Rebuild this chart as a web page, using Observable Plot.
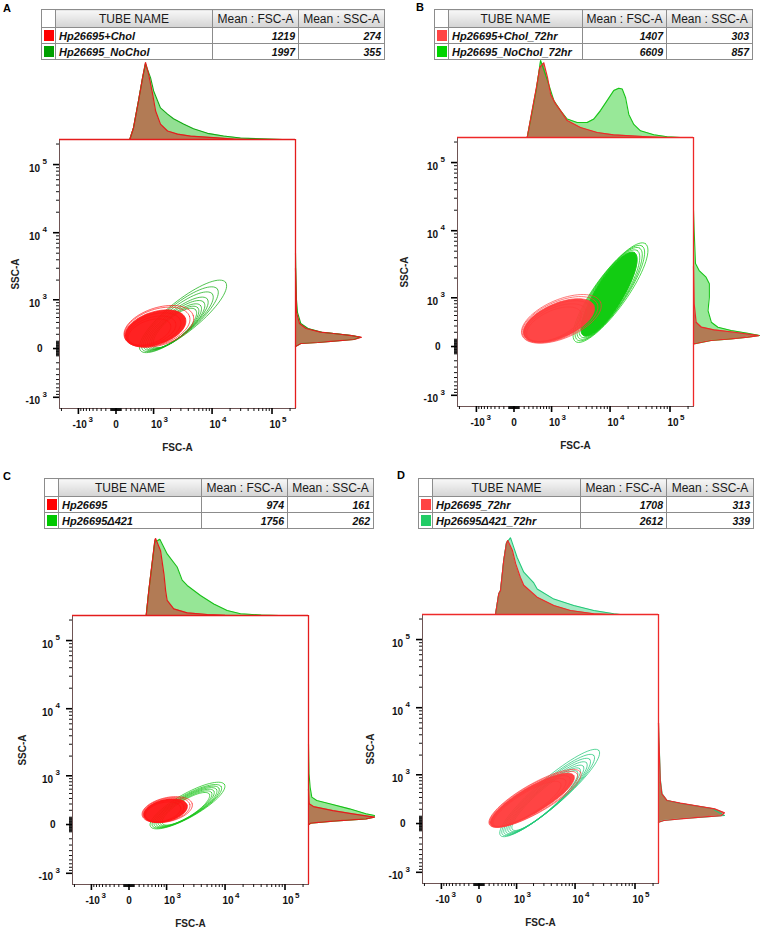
<!DOCTYPE html>
<html><head><meta charset="utf-8">
<script src="https://cdn.jsdelivr.net/npm/d3@7"></script>
<script src="https://cdn.jsdelivr.net/npm/@observablehq/plot@0.6"></script>
<style>
body{margin:0;background:#fff;font-family:"Liberation Sans",Arial,sans-serif;}
#page{position:relative;width:760px;height:929px;overflow:hidden;background:#fff;}
.holder{position:absolute;}
.holder svg{overflow:visible;background:transparent;}
.letter{position:absolute;font:bold 11px "Liberation Sans",Arial,sans-serif;line-height:13px;}
table.tube{position:absolute;border-collapse:collapse;border:1px solid #4a4a4a;table-layout:fixed;}
table.tube td,table.tube th{border:1px solid #8c8c8c;padding:0 3px;overflow:hidden;white-space:nowrap;}
table.tube th{height:17px;font:normal 12px "Liberation Sans",Arial,sans-serif;background:linear-gradient(#f7f7f7,#d4d4d4);color:#1a1a1a;}
table.tube th.blank{background:#fff;}
table.tube td{height:15px;font:italic bold 11px "Liberation Sans",Arial,sans-serif;color:#111;}
table.tube td.num{text-align:right;font-size:10.5px;}
table.tube td.swc{padding:0;}
.sw{display:block;width:10px;height:11px;margin:0 auto;}
</style></head>
<body><div id="page"></div>
<script>
// ---------- table data ----------
const tubeNamesA = ["Hp26695+Chol", "Hp26695_NoChol"];
const meanFscA = [1219, 1997];
const meanSscA = [274, 355];
const tubeNamesB = ["Hp26695+Chol_72hr", "Hp26695_NoChol_72hr"];
const meanFscB = [1407, 6609];
const meanSscB = [303, 857];
const tubeNamesC = ["Hp26695", "Hp26695\u0394421"];
const meanFscC = [974, 1756];
const meanSscC = [161, 262];
const tubeNamesD = ["Hp26695_72hr", "Hp26695\u0394421_72hr"];
const meanFscD = [1708, 2612];
const meanSscD = [313, 339];
const tableHeader = ["TUBE NAME", "Mean : FSC-A", "Mean : SSC-A"];

// ---------- axis ticks ----------
const majorTicks = [-1000, 0, 1000, 10000, 100000];
const majorTickBase = ["-10", "0", "10", "10", "10"];
const majorTickExp = ["3", "", "3", "4", "5"];
const minorMultipliers = [1, 2, 3, 4, 5, 6, 7, 8, 9];
const minorDecades = [10, 100, 1000, 10000, 100000];
const fscRange = [-2160, 246500];
const sscRange = [-1490, 233200];

// ---------- FSC histograms (top): [FSC, % of peak] ----------
const fscHistRedA = [[278,0],[362,15],[488,50],[604,80],[697,100],[802,85],[960,59],[1090,37],[1335,20],[1776,11],[2630,7],[4355,4.5],[12300,2],[22770,0.6],[40000,0]];
const fscHistGreenA = [[278,0],[362,15],[488,50],[604,80],[697,98],[878,80],[1002,63],[1335,41],[1776,33],[2250,27],[3320,20],[4890,14],[8390,8],[15520,4.5],[29800,2],[84000,0.5],[150000,0]];
const fscHistRedB = [[265,0],[378,35],[488,65],[581,91],[706,97],[835,78],[960,56],[1175,44],[1450,35],[1895,22],[3195,13],[6100,6.5],[11400,3.5],[41600,1],[80000,0]];
const fscHistGreenB = [[265,0],[378,33],[488,63],[604,100],[835,74],[1100,48],[1450,35],[1895,24],[2810,19.5],[4145,19.5],[5360,24],[6930,35],[8960,48],[11550,61],[14000,64],[15950,63],[18100,52],[20550,30],[24900,17],[32200,8.7],[53700,3.5],[89700,1],[150000,0]];
const fscHistRedC = [[355,0],[418,32],[581,97],[604,100],[766,84],[890,54],[960,32],[1025,19.5],[1350,8.7],[2310,3.5],[5030,1.3],[10000,0.3],[20000,0]];
const fscHistGreenC = [[355,0],[418,32],[581,95],[740,99],[1025,80],[1550,63],[1895,46],[2310,39],[3880,26],[6480,15],[10850,6.5],[18100,2.2],[40000,0.5],[80000,0]];
const fscHistRedD = [[339,0],[418,27],[462,31],[550,70],[630,92],[672,96],[835,83],[960,66],[1175,48],[1350,38],[2310,22.5],[4420,11.7],[8390,5.2],[20550,1],[40000,0]];
const fscHistGreenD = [[339,0],[418,27],[462,31],[550,70],[630,93],[766,99.6],[1025,74],[1350,55],[2020,41],[2310,33],[4420,20],[9530,11.7],[20550,5.2],[44300,1],[57200,0]];

// ---------- SSC histograms (right): [SSC, % of peak] ----------
const sscHistRedA = [[27,0],[68,8],[82,34],[100,58],[124,89],[156,100],[181,85],[212,58],[232,38],[292,16],[380,6],[621,1.5],[3000,0]];
const sscHistGreenA = [[27,0],[68,8],[82,34],[100,58],[124,88],[156,98],[181,85],[212,58],[232,40],[292,19],[380,8],[621,3],[1000,1.5],[2770,0.5],[5000,0]];
const sscHistRedB = [[36,0],[82,26],[105,56],[128,82],[152,99],[201,62],[238,31],[280,12],[367,4],[800,1],[3000,0]];
const sscHistGreenB = [[36,0],[82,27],[105,57],[128,82],[152,100],[186,82],[227,57],[280,37],[367,27],[614,22],[1020,24],[1640,24],[2060,19],[2590,8.6],[3290,3],[10070,1],[20000,0]];
const sscHistRedC = [[-4,0],[18,3],[45,37],[77,87],[100,100],[148,67],[196,37],[258,7.5],[303,1],[600,0]];
const sscHistGreenC = [[-4,0],[18,3],[45,37],[77,87],[100,99],[124,100],[148,87],[222,62],[303,32],[361,12.5],[425,5],[647,2.5],[1072,0.8],[3000,0]];
const sscHistRedD = [[18,0],[41,8],[64,33],[86,64],[109,95],[148,100],[207,85],[242,64],[297,33],[343,13],[472,5],[808,2.6],[3680,0.5],[6000,0]];
const sscHistGreenD = [[18,0],[41,8],[64,33],[86,66],[109,100],[148,92],[207,82],[242,62],[297,32],[343,13],[472,5.5],[808,3],[3680,0.6],[6000,0]];

// ---------- contour rings: [FSC tip low, SSC tip low, FSC tip high, SSC tip high, half-width (decades)] ----------
const contourRedA = [[166,156,4840,545,0.72],[175,150,4190,525,0.68],[185,144,3590,480,0.63],[207,138,2955,437,0.57],[228,131,2430,398,0.50],[250,124,1995,361,0.44]];
const contourGreenA = [[543,-27,16760,1857,0.60],[604,-14,12180,1475,0.56],[664,0,10050,1237,0.52],[725,7,8290,1030,0.48],[800,14,7280,910,0.46],[875,20,6410,808,0.43],[952,27,5780,740,0.41],[1034,34,5295,686,0.39]];
const contourRedB = [[160,152,6930,850,0.74],[172,152,6100,800,0.70],[192,152,5360,750,0.66],[213,148,4720,703,0.63],[234,148,3900,640,0.57],[265,142,3215,577,0.52]];
const contourGreenB = [[2630,68,39000,6430,0.63],[2840,89,34350,5930,0.60],[3070,109,31300,5530,0.58],[3320,131,28350,5110,0.56],[3590,152,25550,4740,0.53],[3900,174,23400,4320,0.50],[4190,195,21100,3900,0.47],[4530,219,18800,3525,0.44]];
const contourRedC = [[265,124,2810,303,0.46],[280,124,2560,292,0.44],[295,120,2310,280,0.42],[317,116,2020,263,0.39],[340,113,1776,247,0.35]];
const contourGreenC = [[462,-27,9780,720,0.45],[515,-20,8620,662,0.42],[571,-14,7870,625,0.40],[630,-7,7200,590,0.38],[695,0,6490,555,0.36],[763,7,5940,520,0.34],[837,14,5440,488,0.32]];
const contourRedD = [[207,-14,12330,1096,0.55],[217,-14,10850,1030,0.53],[228,-14,9530,972,0.50],[250,-14,8170,893,0.47],[270,-14,6930,808,0.44],[295,-14,5720,730,0.41]];
const contourGreenD = [[462,-166,24900,2340,0.52],[515,-152,20550,1970,0.49],[571,-138,17600,1720,0.47],[630,-124,15520,1530,0.44],[695,-109,13650,1360,0.42],[763,-95,12000,1237,0.40],[837,-82,10850,1120,0.38]];

// ---------- transforms (biexponential-like display) ----------
const TX = v => Math.asinh(v / 500);
const TY = v => Math.asinh(v / 400);
const ASPECT = 29.6 / 26.04;
const xDom = fscRange.map(TX);
const yDom = sscRange.map(TY);

function ringPoints(rings) {
  const pts = [];
  rings.forEach(([f1, s1, f2, s2, w], i) => {
    const ax = TX(f1), ay = TY(s1) * ASPECT, bx = TX(f2), by = TY(s2) * ASPECT;
    const cx = (ax + bx) / 2, cy = (ay + by) / 2, hx = (bx - ax) / 2, hy = (by - ay) / 2;
    const len = Math.hypot(hx, hy), px = -hy / len * w, py = hx / len * w;
    for (let k = 0; k <= 72; k++) {
      const t = 2 * Math.PI * k / 72;
      pts.push({ring: i, x: cx + hx * Math.cos(t) + px * Math.sin(t), y: (cy + hy * Math.cos(t) + py * Math.sin(t)) / ASPECT});
    }
  });
  return pts;
}

const minorTicks = [];
for (const d of minorDecades) for (const m of minorMultipliers) {
  const v = m * d;
  if (!majorTicks.includes(v)) minorTicks.push(v);
  if (d <= 1000 && !majorTicks.includes(-v)) minorTicks.push(-v);
}
const inside = (v, r) => v >= r[0] && v <= r[1];
const tickLabels = majorTicks.map((v, i) => ({v, base: majorTickBase[i], exp: majorTickExp[i]}));

const panels = [
  {id: "A", names: tubeNamesA, fsc: meanFscA, ssc: meanSscA, hR: fscHistRedA, hG: fscHistGreenA, vR: sscHistRedA, vG: sscHistGreenA, cR: contourRedA, cG: contourGreenA, gFill: null,
   L: 59, T: 139, tl: 41, tt: 9, cols: [14,157,86,86], letter: [3,2], sscDx: -44,
   col: {swR:"#ff0000", swG:"#00a000", conR:"#ff1616", conG:"#18b018", lineR:"#e41c1c", lineG:"#14a814", fillG:"#93df93", fillR:"#b27b55"}},
  {id: "B", names: tubeNamesB, fsc: meanFscB, ssc: meanSscB, hR: fscHistRedB, hG: fscHistGreenB, vR: sscHistRedB, vG: sscHistGreenB, cR: contourRedB, cG: contourGreenB, gFill: 4,
   L: 457, T: 137, tl: 434, tt: 9, cols: [14,134,84,86], letter: [416,1], sscDx: -53,
   col: {swR:"#ff4545", swG:"#00d400", conR:"#ff3c3c", conG:"#12cc12", lineR:"#ee2828", lineG:"#16c416", fillG:"#98e898", fillR:"#b27b55"}},
  {id: "C", names: tubeNamesC, fsc: meanFscC, ssc: meanSscC, hR: fscHistRedC, hG: fscHistGreenC, vR: sscHistRedC, vG: sscHistGreenC, cR: contourRedC, cG: contourGreenC, gFill: null,
   L: 72, T: 615, tl: 44, tt: 478, cols: [14,143,86,86], letter: [3,470], sscDx: -50,
   col: {swR:"#ff0000", swG:"#00c800", conR:"#ff1414", conG:"#1ac41a", lineR:"#e41c1c", lineG:"#18c018", fillG:"#96e696", fillR:"#b27b55"}},
  {id: "D", names: tubeNamesD, fsc: meanFscD, ssc: meanSscD, hR: fscHistRedD, hG: fscHistGreenD, vR: sscHistRedD, vG: sscHistGreenD, cR: contourRedD, cG: contourGreenD, gFill: null,
   L: 422, T: 614, tl: 418, tt: 478, cols: [14,148,86,87], letter: [397,469], sscDx: -52,
   col: {swR:"#ff4444", swG:"#22cc66", conR:"#ff3a3a", conG:"#22c878", lineR:"#ee2a2a", lineG:"#22c878", fillG:"#a3eac4", fillR:"#b27b55"}}
];

const page = document.getElementById("page");
const FW = 236, FH = 269;
const font = {fontFamily: "Liberation Sans, Arial, sans-serif", fontSize: "10px", background: "transparent", overflow: "visible"};

function place(node, left, top0) {
  const d = document.createElement("div");
  d.className = "holder"; d.style.left = left + "px"; d.style.top = top0 + "px";
  d.appendChild(node); page.appendChild(d);
}

for (const p of panels) {
  const lt = document.createElement("div");
  lt.className = "letter"; lt.textContent = p.id;
  lt.style.left = p.letter[0] + "px"; lt.style.top = p.letter[1] + "px";
  page.appendChild(lt);

  const t = document.createElement("table");
  t.className = "tube"; t.style.left = p.tl + "px"; t.style.top = p.tt + "px";
  t.style.width = d3.sum(p.cols) + "px";
  const cg = document.createElement("colgroup");
  for (const w of p.cols) { const c = document.createElement("col"); c.style.width = w + "px"; cg.appendChild(c); }
  t.appendChild(cg);
  let html = `<tr><th class="blank"></th>` + tableHeader.map(h => `<th>${h}</th>`).join("") + `</tr>`;
  const sw = [p.col.swR, p.col.swG];
  p.names.forEach((n, i) => {
    html += `<tr><td class="swc"><span class="sw" style="background:${sw[i]}"></span></td><td>${n}</td><td class="num">${p.fsc[i]}</td><td class="num">${p.ssc[i]}</td></tr>`;
  });
  t.insertAdjacentHTML("beforeend", html);
  page.appendChild(t);

  const gPts = ringPoints(p.cG), rPts = ringPoints(p.cR);
  const xMaj = tickLabels.filter(d => inside(d.v, fscRange));
  const yMaj = tickLabels.filter(d => inside(d.v, sscRange));
  const marks = [
    Plot.frame({stroke: "#6e5454", strokeWidth: 1}),
    Plot.line(gPts, {x: "x", y: "y", z: "ring", stroke: p.col.conG, strokeWidth: 0.75})
  ];
  if (p.gFill != null) marks.push(Plot.line(gPts.filter(d => d.ring === p.gFill), {x: "x", y: "y", fill: p.col.conG, stroke: p.col.conG, strokeWidth: 0.75}));
  marks.push(
    Plot.line(rPts.filter(d => d.ring === 2), {x: "x", y: "y", fill: p.col.conR, fillOpacity: 0.95, stroke: "none"}),
    Plot.line(rPts, {x: "x", y: "y", z: "ring", stroke: p.col.conR, strokeWidth: 0.75, strokeOpacity: 0.9}),
    Plot.axisX({ticks: minorTicks.filter(v => inside(v, fscRange)).map(TX), tickSize: 3, tickFormat: () => "", stroke: "#111", strokeWidth: 1, label: null}),
    Plot.axisX({ticks: xMaj.map(d => TX(d.v)), tickSize: 6, tickFormat: () => "", stroke: "#000", strokeWidth: 1.6, label: null}),
    Plot.axisY({ticks: minorTicks.filter(v => inside(v, sscRange)).map(TY), tickSize: 3, tickFormat: () => "", stroke: "#111", strokeWidth: 1, label: null}),
    Plot.axisY({ticks: yMaj.map(d => TY(d.v)), tickSize: 6, tickFormat: () => "", stroke: "#000", strokeWidth: 1.6, label: null}),
    Plot.text(xMaj.filter(d => d.exp), {x: d => TX(d.v), text: "base", frameAnchor: "bottom", lineAnchor: "middle", textAnchor: "end", dx: 8.5, dy: 16.5, fontSize: 10, fontWeight: "bold", fill: "#111"}),
    Plot.text(xMaj.filter(d => d.exp), {x: d => TX(d.v), text: "exp", frameAnchor: "bottom", lineAnchor: "middle", textAnchor: "start", dx: 10, dy: 11, fontSize: 8, fontWeight: "bold", fill: "#111"}),
    Plot.text(xMaj.filter(d => !d.exp), {x: d => TX(d.v), text: "base", frameAnchor: "bottom", lineAnchor: "middle", textAnchor: "middle", dy: 16.5, fontSize: 10, fontWeight: "bold", fill: "#111"}),
    Plot.text(yMaj.filter(d => d.exp), {y: d => TY(d.v), text: "base", frameAnchor: "left", lineAnchor: "middle", textAnchor: "end", dx: -19.5, dy: 4, fontSize: 10, fontWeight: "bold", fill: "#111"}),
    Plot.text(yMaj.filter(d => d.exp), {y: d => TY(d.v), text: "exp", frameAnchor: "left", lineAnchor: "middle", textAnchor: "end", dx: -12.5, dy: -3, fontSize: 8, fontWeight: "bold", fill: "#111"}),
    Plot.text(yMaj.filter(d => !d.exp), {y: d => TY(d.v), text: "base", frameAnchor: "left", lineAnchor: "middle", textAnchor: "end", dx: -17, fontSize: 10, fontWeight: "bold", fill: "#111"}),
    Plot.text(["SSC-A"], {frameAnchor: "left", textAnchor: "middle", lineAnchor: "middle", rotate: -90, dx: p.sscDx, fontSize: 10, fontWeight: "bold", fill: "#222"}),
    Plot.text(["FSC-A"], {frameAnchor: "bottom", textAnchor: "middle", lineAnchor: "middle", dy: 39.5, fontSize: 10, fontWeight: "bold", fill: "#222"})
  );
  const main = Plot.plot({
    width: 60 + FW + 4, height: 6 + FH + 46,
    marginLeft: 60, marginRight: 4, marginTop: 6, marginBottom: 46,
    x: {domain: xDom}, y: {domain: yDom},
    style: font, marks
  });
  place(main, p.L - 60, p.T - 6);

  const topHist = Plot.plot({
    width: FW, height: 78, marginLeft: 0, marginRight: 0, marginTop: 1, marginBottom: 0,
    x: {domain: xDom, axis: null}, y: {domain: [0, 100], axis: null}, style: font,
    marks: [
      Plot.areaY(p.hG, {x: d => TX(d[0]), y: d => d[1], fill: p.col.fillG}),
      Plot.areaY(p.hR, {x: d => TX(d[0]), y: d => d[1], fill: p.col.fillR}),
      Plot.lineY(p.hG, {x: d => TX(d[0]), y: d => d[1], stroke: p.col.lineG, strokeWidth: 1.1}),
      Plot.lineY(p.hR, {x: d => TX(d[0]), y: d => d[1], stroke: p.col.lineR, strokeWidth: 1.2}),
      Plot.ruleY([0], {stroke: p.col.lineR, strokeWidth: 1.3})
    ]
  });
  place(topHist, p.L, p.T - 78);

  const rightHist = Plot.plot({
    width: 67, height: FH, marginLeft: 0, marginRight: 1, marginTop: 0, marginBottom: 0,
    x: {domain: [0, 100], axis: null}, y: {domain: yDom, axis: null}, style: font,
    marks: [
      Plot.areaX(p.vG, {y: d => TY(d[0]), x: d => d[1], fill: p.col.fillG}),
      Plot.areaX(p.vR, {y: d => TY(d[0]), x: d => d[1], fill: p.col.fillR}),
      Plot.lineX(p.vG, {y: d => TY(d[0]), x: d => d[1], stroke: p.col.lineG, strokeWidth: 1.1}),
      Plot.lineX(p.vR, {y: d => TY(d[0]), x: d => d[1], stroke: p.col.lineR, strokeWidth: 1.2}),
      Plot.ruleX([0], {stroke: p.col.lineR, strokeWidth: 1.3})
    ]
  });
  place(rightHist, p.L + FW, p.T);
}
</script></body></html>
